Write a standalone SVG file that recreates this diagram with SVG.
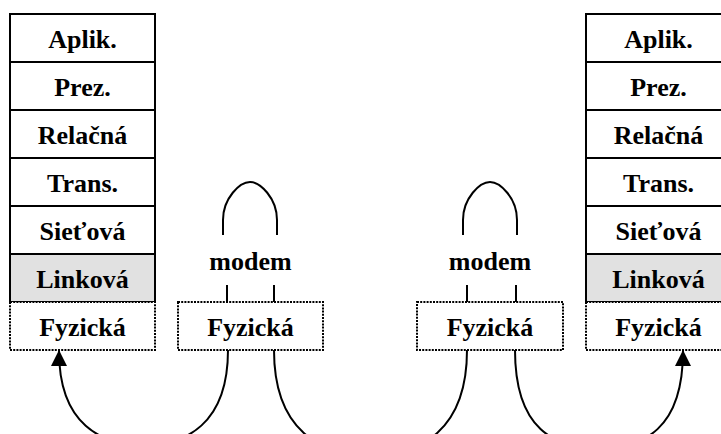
<svg xmlns="http://www.w3.org/2000/svg" width="721" height="434" viewBox="0 0 721 434">
  <style>
    .layer { fill: #ffffff; stroke: #000000; stroke-width: 2; }
    .shaded { fill: #e1e1e1; stroke: #000000; stroke-width: 2; }
    .phys { fill: #ffffff; stroke: #000000; stroke-width: 2; stroke-dasharray: 2 1.2; }
    .lbl { font-family: "Liberation Serif", "Times New Roman", serif; font-weight: bold; font-size: 26px; text-anchor: middle; fill: #000000; }
    .wire { fill: none; stroke: #000000; stroke-width: 2; }
  </style>
  <defs>
    <marker id="arrow" viewBox="0 0 16 16" refX="15" refY="8" markerWidth="16" markerHeight="16" markerUnits="userSpaceOnUse" orient="auto">
      <path d="M0,0 L16,8 L0,16 Z" fill="#000000"/>
    </marker>
  </defs>

  <rect width="721" height="434" fill="#ffffff"/>

  <!-- left OSI stack -->
  <g id="stack-left">
    <g id="left-aplik"><rect class="layer" x="10" y="14" width="145" height="48"/><text class="lbl" x="82.5" y="48">Aplik.</text></g>
    <g id="left-prez"><rect class="layer" x="10" y="62" width="145" height="48"/><text class="lbl" x="82.5" y="96">Prez.</text></g>
    <g id="left-relacna"><rect class="layer" x="10" y="110" width="145" height="48"/><text class="lbl" x="82.5" y="144">Relačná</text></g>
    <g id="left-trans"><rect class="layer" x="10" y="158" width="145" height="48"/><text class="lbl" x="82.5" y="192">Trans.</text></g>
    <g id="left-sietova"><rect class="layer" x="10" y="206" width="145" height="48"/><text class="lbl" x="82.5" y="240">Sieťová</text></g>
    <g id="left-linkova"><rect class="shaded" x="10" y="254" width="145" height="48"/><text class="lbl" x="82.5" y="288">Linková</text></g>
    <g id="left-fyzicka"><rect class="phys" x="10" y="302" width="145" height="48"/><text class="lbl" x="82.5" y="336">Fyzická</text></g>
  </g>

  <!-- left modem -->
  <g id="modem-left">
    <path class="wire" d="M223,235 L223,220 C223,198 240,182 250,182 C260,182 277,198 277,220 L277,235"/>
    <text class="lbl" x="250.5" y="270">modem</text>
    <line class="wire" x1="227" y1="285" x2="227" y2="302"/>
    <line class="wire" x1="274" y1="285" x2="274" y2="302"/>
    <g id="modem-left-fyzicka"><rect class="phys" x="178" y="302" width="145" height="48"/><text class="lbl" x="250.5" y="336">Fyzická</text></g>
  </g>

  <!-- right modem -->
  <g id="modem-right">
    <path class="wire" d="M463,235 L463,220 C463,198 480,182 490,182 C500,182 517,198 517,220 L517,235"/>
    <text class="lbl" x="490" y="270">modem</text>
    <line class="wire" x1="467" y1="285" x2="467" y2="302"/>
    <line class="wire" x1="516" y1="285" x2="516" y2="302"/>
    <g id="modem-right-fyzicka"><rect class="phys" x="417" y="302" width="146" height="48"/><text class="lbl" x="490" y="336">Fyzická</text></g>
  </g>

  <!-- right OSI stack (runs past the right edge) -->
  <g id="stack-right">
    <g id="right-aplik"><rect class="layer" x="586" y="14" width="145" height="48"/><text class="lbl" x="658.5" y="48">Aplik.</text></g>
    <g id="right-prez"><rect class="layer" x="586" y="62" width="145" height="48"/><text class="lbl" x="658.5" y="96">Prez.</text></g>
    <g id="right-relacna"><rect class="layer" x="586" y="110" width="145" height="48"/><text class="lbl" x="658.5" y="144">Relačná</text></g>
    <g id="right-trans"><rect class="layer" x="586" y="158" width="145" height="48"/><text class="lbl" x="658.5" y="192">Trans.</text></g>
    <g id="right-sietova"><rect class="layer" x="586" y="206" width="145" height="48"/><text class="lbl" x="658.5" y="240">Sieťová</text></g>
    <g id="right-linkova"><rect class="shaded" x="586" y="254" width="145" height="48"/><text class="lbl" x="658.5" y="288">Linková</text></g>
    <g id="right-fyzicka"><rect class="phys" x="586" y="302" width="145" height="48"/><text class="lbl" x="658.5" y="336">Fyzická</text></g>
  </g>

  <!-- physical links, dipping below the bottom edge -->
  <g id="connectors">
    <path class="wire" d="M228,350 C228,425 185,445 143.5,445 C102,445 59,425 59,351" marker-end="url(#arrow)"/>
    <path class="wire" d="M274,350 C274,430 320,455 370.5,455 C421,455 467,430 467,350"/>
    <path class="wire" d="M515,350 C515,430 555,448 599,448 C643,448 683,430 683,351" marker-end="url(#arrow)"/>
  </g>
</svg>
